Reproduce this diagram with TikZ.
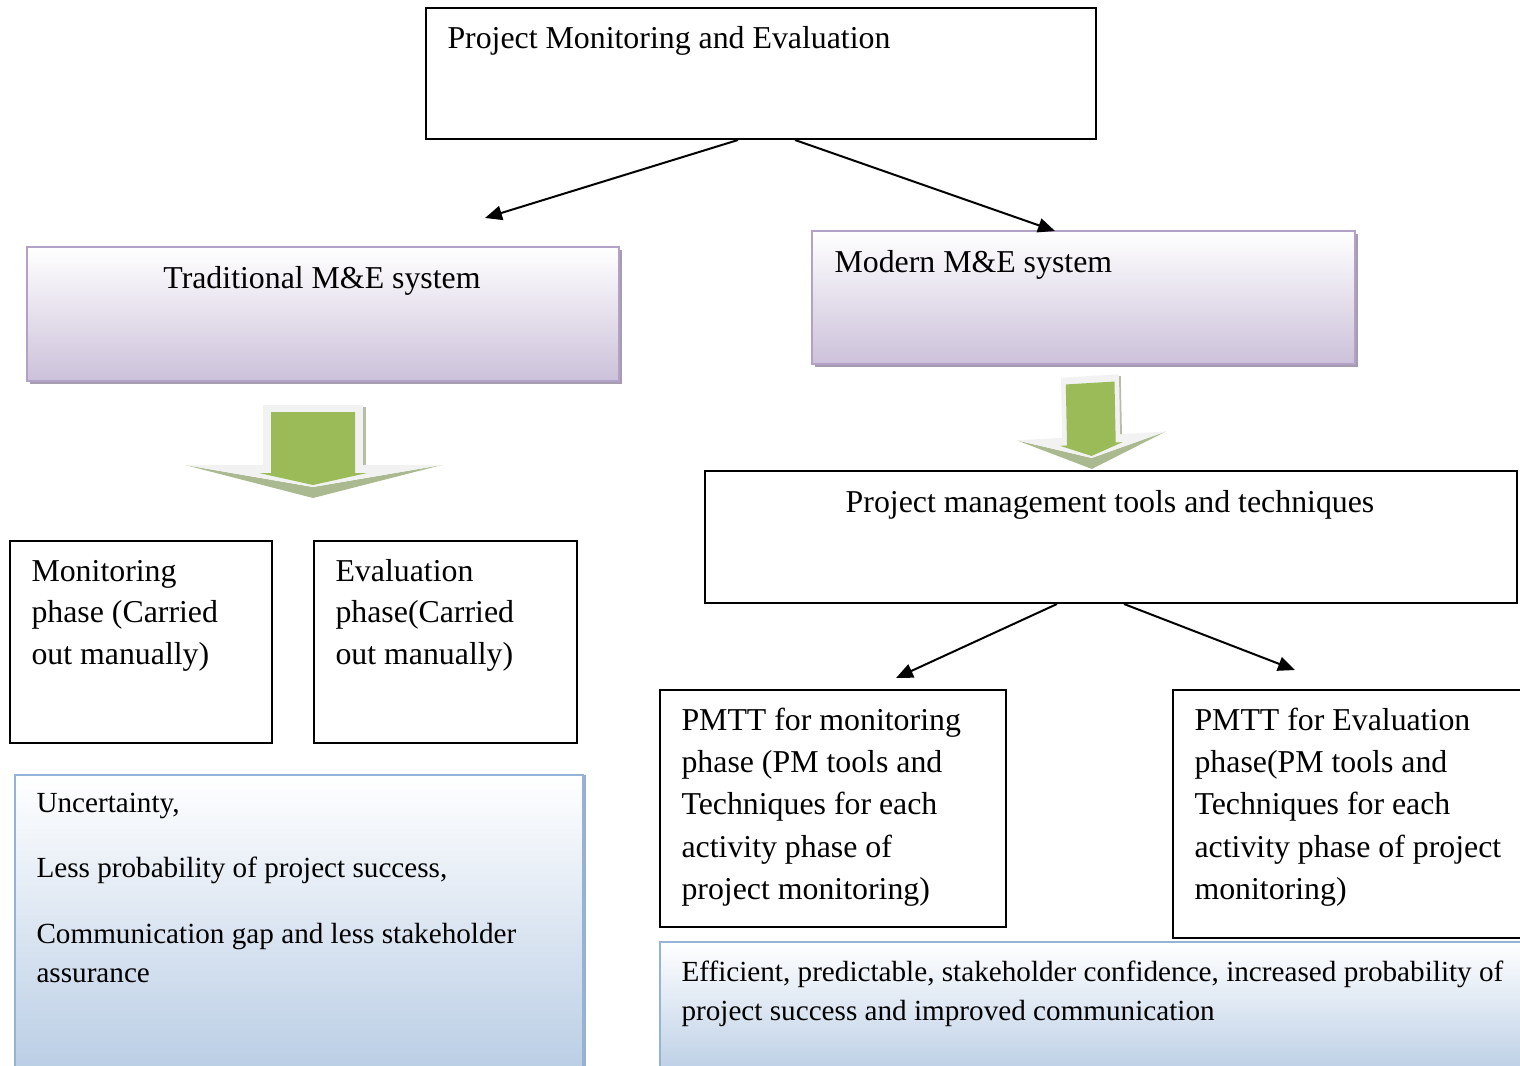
\documentclass[tikz,border=0pt]{standalone}
\usepackage{fontspec}
\setmainfont{Liberation Serif}
\usetikzlibrary{arrows.meta,fit,calc,shadows}

\definecolor{violetend}{HTML}{CCC1DA}
\definecolor{violetline}{HTML}{B3A2C7}
\definecolor{violetshade}{HTML}{A59CB0}
\definecolor{blueend}{HTML}{B8CCE4}
\definecolor{blueline}{HTML}{95B3D7}
\definecolor{blueshade}{HTML}{9AAFCB}
\definecolor{arrowgreen}{HTML}{9BBB59}
\definecolor{arrowshade}{HTML}{AAB98F}
\definecolor{arrowface}{HTML}{F2F2F2}
\definecolor{arrowedge}{HTML}{B5BCA8}

\tikzset{
  plainbox/.style={draw,line width=0.75pt,inner sep=0pt},
  violetbox/.style={draw=violetline,line width=0.9pt,inner sep=0pt,
    top color=white,bottom color=violetend,
    drop shadow={shadow xshift=1.2pt,shadow yshift=-1.2pt,opacity=1,fill=violetshade}},
  bluebox/.style={draw=blueline,line width=0.9pt,inner sep=0pt,
    top color=white,bottom color=blueend,
    drop shadow={shadow xshift=1.1pt,shadow yshift=0pt,opacity=1,fill=blueshade}},
  boxtext/.style={anchor=base west,inner sep=0pt,align=flush left,text width=330pt,
    font=\fontsize{12}{16}\selectfont},
  notetext/.style={anchor=base west,inner sep=0pt,align=flush left,text width=330pt,
    font=\fontsize{11}{14.7}\selectfont},
  link/.style={->,>={Triangle[length=6.4pt,width=5.4pt]},line width=0.75pt},
  greenarrow/.pic={
    \fill[arrowshade] (-128,60) -- (0,93) -- (129,60) -- (0,82) -- cycle;
    \fill[arrowface] (-50,0) -- (50,0) -- (50,60) -- (129,60) -- (0,82) -- (-128,60) -- (-50,60) -- cycle;
    \fill[arrowedge] (50,2) rectangle (53,60);
    \fill[arrowgreen] (-42,7) -- (42,7) -- (42,68) -- (54,68) -- (0,80) -- (-54,68) -- (-42,68) -- cycle;
  }
}

\begin{document}
\begin{tikzpicture}[x=0.377pt,y=-0.377pt]
\useasboundingbox (0,0) rectangle (1520,1066);
\clip (0,0) rectangle (1520,1066);

% boxes
\node[plainbox,fit={(426,8) (1096,139)}] (pme) {};
\node[violetbox,fit={(27,247) (619,381)}] (trad) {};
\node[violetbox,fit={(812,231) (1355,364)}] (modern) {};
\node[plainbox,fit={(705,471) (1517,603)}] (pmtools) {};
\node[plainbox,fit={(10,541) (272,743)}] (monph) {};
\node[plainbox,fit={(314,541) (577,743)}] (evalph) {};
\node[bluebox,fit={(15,775) (583,1080)}] (weak) {};
\node[plainbox,fit={(660,690) (1006,927)}] (pmttmon) {};
\node[plainbox,fit={(1173,690) (1535,938)}] (pmtteval) {};
\node[bluebox,fit={(660,942) (1535,1080)}] (strong) {};

% texts
\node[boxtext] (pmetext) at (447,48) {Project Monitoring and Evaluation};
\node[anchor=base,inner sep=0pt,font=\fontsize{12}{16}\selectfont] (tradtext) at (322,288) {Traditional M\&E system};
\node[boxtext] (modtext) at (834,272) {Modern M\&E system};
\node[anchor=base,inner sep=0pt,font=\fontsize{12}{16}\selectfont] (pmtoolstext) at (1110,512) {Project management tools and techniques};
\node[boxtext,font=\fontsize{12}{15.8}\selectfont] (montext) at (31,581) {Monitoring\\phase (Carried\\out manually)};
\node[boxtext,font=\fontsize{12}{15.8}\selectfont] (evaltext) at (335,581) {Evaluation\\phase(Carried\\out manually)};
\node[boxtext] (pmttmontext) at (681,730) {PMTT for monitoring\\phase (PM tools and\\Techniques for each\\activity phase of\\project monitoring)};
\node[boxtext] (pmttevaltext) at (1194,730) {PMTT for Evaluation\\phase(PM tools and\\Techniques for each\\activity phase of project\\monitoring)};
\node[notetext] (weaktext) at (36,812) {Uncertainty,\\[10pt]Less probability of project success,\\[10pt]Communication gap and less stakeholder\\assurance};
\node[notetext] (strongtext) at (681,981) {Efficient, predictable, stakeholder confidence, increased probability of\\project success and improved communication};

% green arrows
\pic at (313,405) {greenarrow};
\pic[xscale=0.58,rotate=2] at (1090,376) {greenarrow};

% connectors
\coordinate (tradtip) at (485,218);
\coordinate (modtip) at (1055,231);
\coordinate (montip) at (896,678);
\coordinate (evaltip) at (1295,670);
\draw[link] ($(pme.south)+(-23,0)$) -- (tradtip);
\draw[link] ($(pme.south)+(34,0)$) -- (modtip);
\draw[link] ($(pmtools.south)+(-54,0)$) -- (montip);
\draw[link] ($(pmtools.south)+(13,0)$) -- (evaltip);
\end{tikzpicture}
\end{document}
